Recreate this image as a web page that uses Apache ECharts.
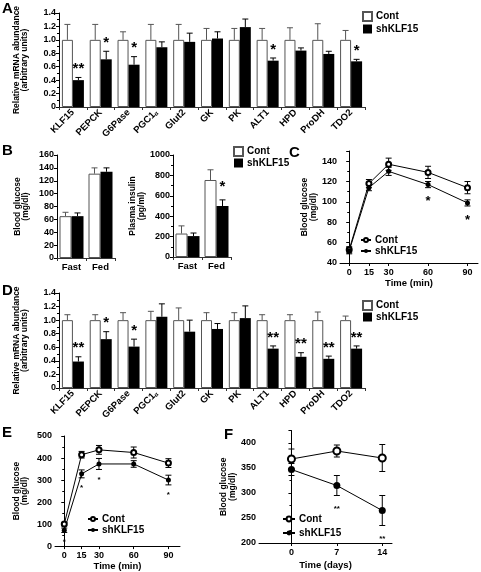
<!DOCTYPE html>
<html><head><meta charset="utf-8">
<script src="https://cdn.jsdelivr.net/npm/echarts@6/dist/echarts.min.js"></script>
<style>html,body{margin:0;padding:0;background:#fff}#c{width:481px;height:572px}</style>
</head><body><div id="c"></div>
<script>
// ---------- Data ----------
const genes = ['KLF15','PEPCK','G6Pase','PGC1α','Glut2','GK','PK','ALT1','HPD','ProDH','TDO2'];
// Panel A
const aCont    = [1,1,1,1,1,1,1,1,1,1,1];
const aContErr = [0.23,0.23,0.12,0.23,0.23,0.17,0.17,0.17,0.18,0.24,0.14];
const aSh      = [0.40,0.71,0.63,0.89,0.97,1.02,1.19,0.69,0.84,0.79,0.68];
const aShErr   = [0.04,0.12,0.12,0.08,0.13,0.10,0.12,0.04,0.04,0.04,0.03];
const aStars   = ['**','*','*','','','','','*','','','*'];
// Panel B
const bCats = ['Fast','Fed'];
const bGluCont = [65,131], bGluContErr = [6,9];
const bGluSh   = [65,134], bGluShErr   = [5,6];
const bGluStars = ['',''];
const bInsCont = [230,755], bInsContErr = [75,100];
const bInsSh   = [205,500], bInsShErr   = [30,60];
const bInsStars = ['','*'];
// Panel C
const cTimes = [0,15,30,60,90];
const cCont = [53,118,137,129,114], cContErr = [3,4,6,6,6];
const cSh   = [52,114,130,117,99],  cShErr   = [3,3,4,3,3];
const cStars = ['','','','*','*'];
// Panel D
const dCont    = [1,1,1,1,1,1,1,1,1,1,1];
const dContErr = [0.08,0.08,0.11,0.13,0.18,0.11,0.11,0.08,0.08,0.12,0.06];
const dSh      = [0.39,0.72,0.61,1.05,0.83,0.87,1.03,0.58,0.46,0.43,0.58];
const dShErr   = [0.07,0.11,0.11,0.19,0.17,0.08,0.18,0.04,0.06,0.04,0.04];
const dStars   = ['**','*','*','','','','','**','**','**','**'];
// Panel E
const eTimes = [0,15,30,60,90];
const eCont = [100,415,437,425,377], eContErr = [8,15,20,25,20];
const eSh   = [72,328,373,373,300],  eShErr   = [10,18,25,15,22];
const eStars = ['*','*','*','','*'];
// Panel F
const fDays = [0,7,14];
const fCont = [368,384,370], fContErr = [20,12,27];
const fSh   = [347,315,265], fShErr   = [12,20,30];
const fStars = ['','**','**'];

// ---------- Helpers ----------
const FF = '"Liberation Sans", Arial, sans-serif';
const TXT = {color:'#000', fontSize:9, fontWeight:'bold', fontFamily:FF};
const NAME = {color:'#000', fontSize:8.5, fontWeight:'bold', fontFamily:FF, lineHeight:8.5};
const GRAY = '#555';
const plain = v => String(Math.round(v * 100) / 100);

function yAxis(idx, min, max, interval, name, nameGap, extra) {
  return Object.assign({
    type:'value', gridIndex:idx, min:min, max:max, interval:interval,
    axisLine:{show:true, lineStyle:{color:'#000', width:1}},
    axisTick:{show:true, length:3, lineStyle:{color:'#000'}},
    minorTick:{show:true, splitNumber:2, length:2, lineStyle:{color:'#000'}},
    splitLine:{show:false},
    axisLabel:Object.assign({margin:3, formatter:plain}, TXT),
    name:name, nameLocation:'middle', nameRotate:90, nameGap:nameGap,
    nameTextStyle:NAME
  }, extra || {});
}
function catAxis(idx, cats, rotate, fs) {
  return {
    type:'category', gridIndex:idx, data:cats,
    axisLine:{show:true, lineStyle:{color:'#333'}},
    axisTick:{show:true, length:3, lineStyle:{color:'#333'}},
    axisLabel:Object.assign({}, TXT, {fontSize:fs, rotate:rotate, margin:4, interval:0,
      formatter: v => v.replace('α','{s|α}'),
      rich:{s:{fontSize:6, fontWeight:'bold', fontFamily:FF, color:'#000', verticalAlign:'bottom'}}})
  };
}
function valXAxis(idx, min, max, ticks, name, nameGap) {
  return {
    type:'value', gridIndex:idx, min:min, max:max,
    axisLine:{show:true, onZero:false, lineStyle:{color:'#000'}},
    axisTick:{show:true, length:3, customValues:ticks, lineStyle:{color:'#000'}},
    axisLabel:Object.assign({margin:5, customValues:ticks}, TXT),
    splitLine:{show:false},
    name:name, nameLocation:'middle', nameGap:nameGap,
    nameTextStyle:Object.assign({}, TXT, {fontSize:9.5})
  };
}
function barErr(bw, sign, color) {
  return (params, api) => {
    const c = api.value(0), v = api.value(1), e = api.value(2);
    const p = api.coord([c, v]), t = api.coord([c, v + e]);
    const x = p[0] + sign * bw / 2;
    return {type:'group', children:[
      {type:'line', shape:{x1:x, y1:p[1], x2:x, y2:t[1]}, style:{stroke:color, lineWidth:1}},
      {type:'line', shape:{x1:x-3, y1:t[1], x2:x+3, y2:t[1]}, style:{stroke:color, lineWidth:1}}
    ]};
  };
}
function barStarR(bw, stars, fs, gap) {
  return (params, api) => {
    const s = stars[params.dataIndex];
    if (!s) return null;
    const c = api.value(0), v = api.value(1) + api.value(2);
    const t = api.coord([c, v]);
    return {type:'text', style:{text:s, x:t[0] + bw/2, y:t[1] - gap + 0.23*fs,
      fill:'#000', font:'bold ' + fs + 'px ' + FF, align:'center', verticalAlign:'middle',
      textAlign:'center', textVerticalAlign:'middle'}};
  };
}
function lineErr(color, cap) {
  return (params, api) => {
    const x = api.value(0), v = api.value(1), e = api.value(2);
    const lo = api.coord([x, v - e]), hi = api.coord([x, v + e]);
    return {type:'group', children:[
      {type:'line', shape:{x1:lo[0], y1:lo[1], x2:hi[0], y2:hi[1]}, style:{stroke:color, lineWidth:1}},
      {type:'line', shape:{x1:hi[0]-cap, y1:hi[1], x2:hi[0]+cap, y2:hi[1]}, style:{stroke:color, lineWidth:1}},
      {type:'line', shape:{x1:lo[0]-cap, y1:lo[1], x2:lo[0]+cap, y2:lo[1]}, style:{stroke:color, lineWidth:1}}
    ]};
  };
}
function lineStarR(stars, fs, gap) {
  return (params, api) => {
    const s = stars[params.dataIndex];
    if (!s) return null;
    const x = api.value(0), v = api.value(1) - api.value(2);
    const p = api.coord([x, v]);
    return {type:'text', style:{text:s, x:p[0], y:p[1] + gap + 0.23*fs,
      fill:'#000', font:'bold ' + fs + 'px ' + FF, align:'center', verticalAlign:'middle',
      textAlign:'center', textVerticalAlign:'middle'}};
  };
}
function barPanel(idx, tag, cont, contErr, sh, shErr, stars, bw, starFs, starGap) {
  const ax = {xAxisIndex:idx, yAxisIndex:idx};
  return [
    Object.assign({type:'bar', name:'Cont|'+tag, data:cont, barWidth:bw, barGap:'0%', z:3,
      itemStyle:{color:'#fff', borderColor:GRAY, borderWidth:1}}, ax),
    Object.assign({type:'bar', name:'shKLF15|'+tag, data:sh, barWidth:bw, barGap:'0%', z:3,
      itemStyle:{color:'#000', borderColor:'#000', borderWidth:0}}, ax),
    Object.assign({type:'custom', data:cont.map((v,i)=>[i, v, contErr[i]]), renderItem:barErr(bw, -1, GRAY), z:2, silent:true}, ax),
    Object.assign({type:'custom', data:sh.map((v,i)=>[i, v, shErr[i]]), renderItem:barErr(bw, 1, '#000'), z:2, silent:true}, ax),
    Object.assign({type:'custom', data:sh.map((v,i)=>[i, v, shErr[i]]), renderItem:barStarR(bw, stars, starFs, starGap), z:4, silent:true}, ax)
  ];
}
function linePanel(idx, tag, xs, cont, contErr, sh, shErr, stars, sym, cap, starFs, starGap) {
  const ax = {xAxisIndex:idx, yAxisIndex:idx};
  return [
    Object.assign({type:'custom', data:xs.map((x,i)=>[x, cont[i], contErr[i]]), renderItem:lineErr('#000', cap), z:2, silent:true}, ax),
    Object.assign({type:'custom', data:xs.map((x,i)=>[x, sh[i], shErr[i]]), renderItem:lineErr('#000', cap), z:2, silent:true}, ax),
    Object.assign({type:'line', name:'Cont|'+tag, data:xs.map((x,i)=>[x, cont[i]]), symbol:'emptyCircle', symbolSize:sym, z:5,
      itemStyle:{color:'#000', borderColor:'#000', borderWidth:1}, lineStyle:{color:'#000', width:1}}, ax),
    Object.assign({type:'line', name:'shKLF15|'+tag, data:xs.map((x,i)=>[x, sh[i]]), symbol:'circle', symbolSize:sym, z:5,
      itemStyle:{color:'#000'}, lineStyle:{color:'#000', width:1}}, ax),
    Object.assign({type:'custom', data:xs.map((x,i)=>[x, sh[i], shErr[i]]), renderItem:lineStarR(stars, starFs, starGap), z:6, silent:true}, ax)
  ];
}
function legend(tag, left, top, iw, ih, gap, icon) {
  const l = {data:['Cont|'+tag, 'shKLF15|'+tag], left:left, top:top, orient:'vertical', padding:0,
    itemWidth:iw, itemHeight:ih, itemGap:gap, selectedMode:false,
    formatter: n => n.split('|')[0],
    textStyle:{color:'#000', fontSize:10, fontWeight:'bold', fontFamily:FF, lineHeight:10, padding:[0,0,0,-1]}};
  if (icon) l.icon = icon;
  else l.itemStyle = {borderWidth:1};
  return l;
}
const yName2 = 'Blood glucose\n(mg/dl)';
const fmt1 = v => v === 0 ? '0' : v.toFixed(1);

const option = {
  backgroundColor:'#fff',
  animation:false,
  title:[
    {text:'A', left:2, top:1},
    {text:'B', left:2, top:143},
    {text:'C', left:289, top:145},
    {text:'D', left:2, top:283},
    {text:'E', left:2, top:425},
    {text:'F', left:224, top:427}
  ].map(t => Object.assign(t, {padding:0, textStyle:{fontSize:15, fontWeight:'bold', fontFamily:FF, color:'#000'}})),
  grid:[
    {left:59, top:13, width:306, height:94},
    {left:57, top:155, width:58, height:103},
    {left:173, top:155, width:58, height:102},
    {left:340, top:151, width:138, height:112},
    {left:59, top:293, width:306, height:95},
    {left:55, top:436, width:125, height:111},
    {left:259, top:430.5, width:133, height:112.5}
  ],
  xAxis:[
    catAxis(0, genes, 45, 9.5),
    catAxis(1, bCats, 0, 9.5),
    catAxis(2, bCats, 0, 9.5),
    valXAxis(3, -7, 98, cTimes, 'Time (min)', 15),
    catAxis(4, genes, 45, 9.5),
    valXAxis(5, -8, 100, eTimes, 'Time (min)', 14),
    valXAxis(6, -5, 15.5, fDays, 'Time (days)', 17)
  ],
  yAxis:[
    yAxis(0, 0, 1.4, 0.2, 'Relative mRNA abundance\n(arbitrary units)', 30, {axisLabel:Object.assign({margin:3, formatter:fmt1}, TXT)}),
    yAxis(1, 0, 160, 20, yName2, 27, {minorTick:{show:false}}),
    yAxis(2, 0, 1000, 200, 'Plasma insulin\n(pg/ml)', 27),
    yAxis(3, 40, 150, 20, yName2, 22, {axisLabel:Object.assign({margin:3, showMaxLabel:false, formatter:plain}, TXT)}),
    yAxis(4, 0, 1.4, 0.2, 'Relative mRNA abundance\n(arbitrary units)', 30, {axisLabel:Object.assign({margin:3, formatter:fmt1}, TXT)}),
    yAxis(5, 0, 500, 100, yName2, 26),
    yAxis(6, 200, 425, 50, yName2, 19, {axisLabel:Object.assign({margin:3, showMaxLabel:false, formatter:plain}, TXT)})
  ],
  legend:[
    legend('A', 362, 11, 9, 9, 2, 'rect'),
    legend('B', 233, 146, 9, 9, 1, 'rect'),
    legend('C', 360, 235, 10, 5, 1),
    legend('D', 362, 300, 9, 9, 1, 'rect'),
    legend('E', 87, 514, 10, 5, 1),
    legend('F', 282, 514, 12, 6, 4)
  ],
  series:[].concat(
    barPanel(0, 'A', aCont, aContErr, aSh, aShErr, aStars, 11, 15, 12),
    barPanel(1, 'B', bGluCont, bGluContErr, bGluSh, bGluShErr, bGluStars, 12, 15, 12),
    barPanel(2, 'B', bInsCont, bInsContErr, bInsSh, bInsShErr, bInsStars, 12, 15, 16),
    linePanel(3, 'C', cTimes, cCont, cContErr, cSh, cShErr, cStars, 5, 3, 13, 11),
    barPanel(4, 'D', dCont, dContErr, dSh, dShErr, dStars, 11, 15, 12),
    linePanel(5, 'E', eTimes, eCont, eContErr, eSh, eShErr, eStars, 5, 3, 8, 8),
    linePanel(6, 'F', fDays, fCont, fContErr, fSh, fShErr, fStars, 7, 3, 8, 11)
  )
};
const chart = echarts.init(document.getElementById('c'), null, {renderer:'canvas'});
chart.setOption(option);
</script></body></html>
